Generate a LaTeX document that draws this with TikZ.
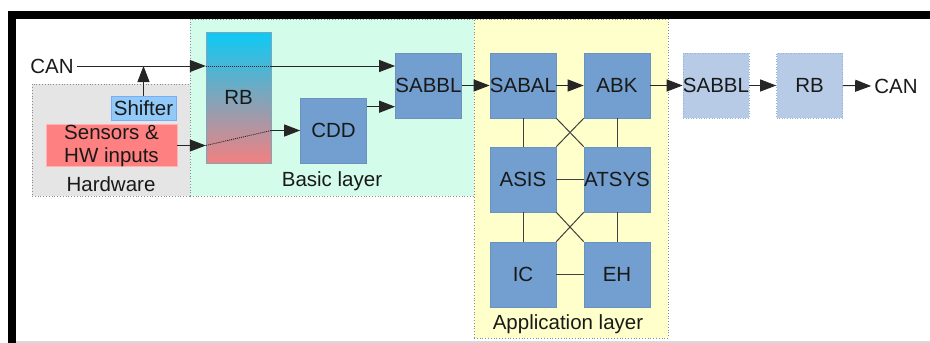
\documentclass[tikz,border=0pt]{standalone}
\usepackage{fontspec}
\setmainfont{Liberation Sans}
\usetikzlibrary{arrows.meta,calc}

\definecolor{boxblue}{RGB}{114,159,207}
\definecolor{ghostblue}{RGB}{183,203,230}
\definecolor{hwgray}{RGB}{229,229,229}
\definecolor{basicgreen}{RGB}{212,252,234}
\definecolor{appyellow}{RGB}{255,255,204}
\definecolor{shiftblue}{RGB}{145,202,248}
\definecolor{sensred}{RGB}{255,128,128}
\definecolor{rbtop}{RGB}{12,202,245}
\definecolor{rbbottom}{RGB}{242,128,128}
\definecolor{ink}{RGB}{25,25,25}

\begin{document}
\begin{tikzpicture}[x=1pt,y=-1pt,
  font=\fontsize{20.5}{23}\selectfont, text=ink,
  layer/.style={fill=#1, draw=black!45, dotted, line width=0.8pt, inner sep=0pt},
  blk/.style={draw=boxblue!92!black, fill=boxblue, line width=0.6pt,
    minimum width=66pt, minimum height=65pt, inner sep=0pt},
  ghost/.style={draw=boxblue!80, dotted, fill=ghostblue, line width=0.6pt,
    minimum width=66pt, minimum height=65pt, inner sep=0pt},
  arr/.style={draw=black!85, line width=1pt, -{Triangle[length=16pt,width=12pt]}},
  link/.style={draw=black!75, line width=1pt},
  dots/.style={draw=black!85, line width=0.9pt, dash pattern=on 1pt off 1pt},
  lbl/.style={inner sep=0pt}
]
\useasboundingbox (0,0) rectangle (930,343);

% layers
\node[layer=hwgray, minimum width=158pt, minimum height=112pt] (hw) at (111,140) {};
\node[layer=basicgreen, minimum width=284pt, minimum height=177pt] (basic) at (332,107.5) {};
\node[layer=appyellow, minimum width=194pt, minimum height=319pt] (app) at (571,178.5) {};
\node[lbl] (hwlbl) at (111,184) {Hardware};
\node[lbl] (basiclbl) at (332,181) {Basic layer};
\node[lbl] (applbl) at (568,324) {Application layer};

% hardware side
\node[draw=shiftblue!85!blue, fill=shiftblue, line width=0.6pt, inner sep=0pt,
  minimum width=65pt, minimum height=24pt] (shifter) at (143.5,108) {Shifter};
\node[draw=sensred!60!white, fill=sensred, line width=0.6pt, inner sep=0pt,
  minimum width=131pt, minimum height=41pt, align=center] (sens) at (111.5,145.5)
  {Sensors \&\\HW inputs};

% basic layer
\node[top color=rbtop, bottom color=rbbottom, draw=rbtop!50!rbbottom, line width=0.4pt,
  minimum width=65pt, minimum height=131pt, inner sep=0pt] (rb) at (238.5,97.5) {RB};
\node[blk] (cdd) at (333.5,130.5) {CDD};
\node[blk] (sabbl) at (428.5,85.5) {SABBL};

% application layer
\node[blk] (sabal) at (523,85.5) {SABAL};
\node[blk] (abk) at (617,85.5) {ABK};
\node[blk] (asis) at (523,179.5) {ASIS};
\node[blk] (atsys) at (617,179.5) {ATSYS};
\node[blk] (ic) at (523,274.5) {IC};
\node[blk] (eh) at (617,274.5) {EH};

% outgoing chain
\node[ghost] (sabbl2) at (716,85.5) {SABBL};
\node[ghost] (rb2) at (809.5,85.5) {RB};

\node[inner sep=3pt] (canin) at (52,66) {CAN};
\node[inner sep=3pt] (canout) at (896,86) {CAN};

% CAN input through RB to SABBL
\draw[arr] (canin.east) -- (canin -| rb.west);
\draw[dots] (canin -| rb.west) -- (canin -| rb.east);
\draw[arr] (canin -| rb.east) -- (canin -| sabbl.west);
\draw[arr] (shifter.north) -- (shifter |- canin);

% sensors through RB to CDD
\draw[arr] (sens.east) -- (sens -| rb.west);
\draw[dots] (sens -| rb.west) -- (cdd -| rb.east);
\draw[arr] (cdd -| rb.east) -- (cdd.west);
\coordinate (cddout) at ([yshift=-9pt]cdd.north east);
\draw[arr] (cddout) -- (cddout -| sabbl.west);

\draw[arr] (sabbl.east) -- (sabal.west);
\draw[arr] (sabal.east) -- (abk.west);
\draw[arr] (abk.east) -- (sabbl2.west);
\draw[arr] (sabbl2.east) -- (rb2.west);
\draw[arr] (rb2.east) -- (canout.west);

% links inside the application layer
\draw[link] (sabal.south) -- (asis.north);
\draw[link] (abk.south) -- (atsys.north);
\draw[link] (sabal.south east) -- (atsys.north west);
\draw[link] (abk.south west) -- (asis.north east);
\draw[link] (asis.east) -- (atsys.west);
\draw[link] (asis.south) -- (ic.north);
\draw[link] (atsys.south) -- (eh.north);
\draw[link] (asis.south east) -- (eh.north west);
\draw[link] (atsys.south west) -- (ic.north east);
\draw[link] (ic.east) -- (eh.west);

% frame
\draw[black, line width=8pt] (8,15) -- (930,15);
\draw[black, line width=8pt] (12,11) -- (12,343);
\draw[black!15, line width=1.5pt] (16,342) -- (930,342);
\end{tikzpicture}
\end{document}
